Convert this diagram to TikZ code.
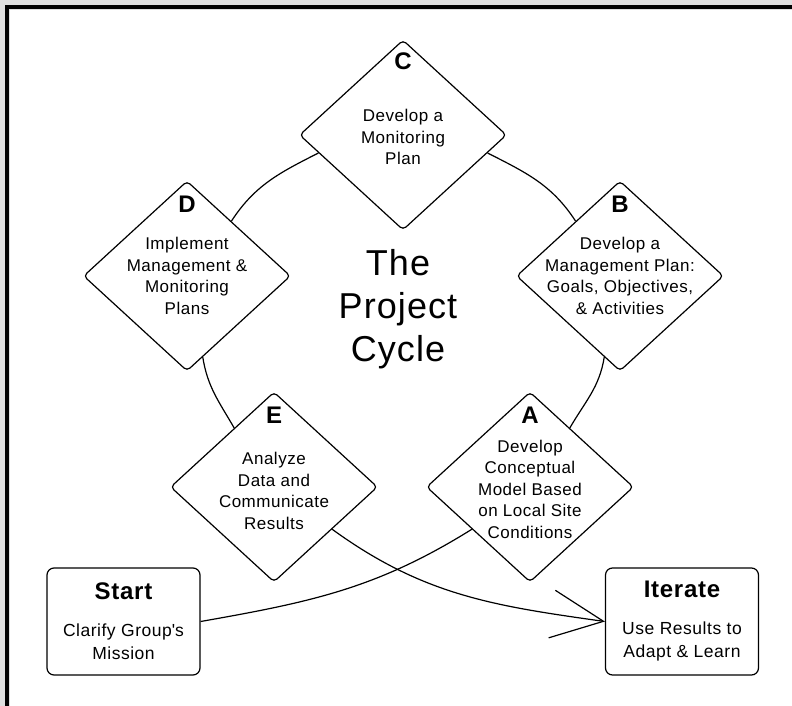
\documentclass[tikz,border=0pt]{standalone}
\usepackage{fontspec}
\setmainfont[LetterSpace=3]{Liberation Sans}
\usepackage{xcolor}
\definecolor{panel}{RGB}{222, 222, 222}
\usepackage{tikz}
\usetikzlibrary{positioning, shapes.geometric, arrows.meta}
\tikzset{
  phase/.style = {
    draw,
    diamond,
    fill=white,
    line width=1.2pt,
    rounded corners=4pt,
    minimum width=207pt,
    minimum height=190pt,
    inner sep=0pt
  },
  endbox/.style = {
    draw,
    fill=white,
    line width=1.2pt,
    rounded corners=7pt,
    minimum width=153pt,
    minimum height=107pt,
    align=center,
    font=\fontsize{17.5}{23}\selectfont
  },
  letter/.style = {
    font=\fontsize{24}{24}\selectfont\bfseries,
    inner sep=0pt
  },
  blurb/.style = {
    font=\fontsize{17}{21.5}\selectfont,
    align=center,
    inner sep=0pt
  },
  title/.style = {
    font=\fontsize{36}{43}\selectfont,
    align=center,
    inner sep=0pt
  },
  link/.style = {
    line width=1.2pt
  },
}

\begin{document}
\begin{tikzpicture}[x=1pt, y=1pt]
    \useasboundingbox (0,0) rectangle (792,-706);
    % window frame
    \fill[panel] (0,0) rectangle (792,-706);
    \fill[white] (10,-10) rectangle (792,-706);
    \fill[black] (5,-5) rectangle (792,-9);
    \fill[black] (5,-5) rectangle (9,-706);

    % the five phases
    \node[phase,
      label={[letter, yshift=74pt]center:C},
      label={[blurb, yshift=-2pt]center:{Develop a\\Monitoring\\Plan}}]
      (C) at (403,-135) {};
    \node[phase,
      label={[letter, yshift=72pt]center:D},
      label={[blurb]center:{Implement\\Management \&\\Monitoring\\Plans}}]
      (D) at (187,-276) {};
    \node[phase,
      label={[letter, yshift=72pt]center:B},
      label={[blurb]center:{Develop a\\Management Plan:\\Goals, Objectives,\\\& Activities}}]
      (B) at (620,-276) {};
    \node[phase,
      label={[letter, yshift=72pt]center:E},
      label={[blurb, yshift=-4pt]center:{Analyze\\Data and\\Communicate\\Results}}]
      (E) at (274,-487) {};
    \node[phase,
      label={[letter, yshift=72pt]center:A},
      label={[blurb, yshift=-2pt]center:{Develop\\Conceptual\\Model Based\\on Local Site\\Conditions}}]
      (A) at (530,-487) {};

    \node[title] (cycle) at (398,-309) {The\\Project\\Cycle};

    % start and end
    \node[endbox] (start) at (123.5,-621.5)
      {{\fontsize{24}{24}\selectfont\bfseries Start}\\[14pt]Clarify Group\textquotesingle s\\Mission};
    \node[endbox] (iterate) at (682,-621.5)
      {{\fontsize{24}{24}\selectfont\bfseries Iterate}\\[14pt]Use Results to\\Adapt \& Learn};

    % the cycle
    \draw[link] (C.192) to[out=207, in=57] (D.51);
    \draw[link] (C.348) to[out=333, in=123] (B.129);
    \draw[link] (D.281) to[out=279, in=120] (E.124);
    \draw[link] (B.259) to[out=261, in=60] (A.56);
    \draw[link] (start.east) to[out=10, in=212] (A.216);
    \draw[link, -{Straight Barb[length=52pt, width=48pt]}]
      (E.324) to[out=-36, in=172] (iterate.west);
\end{tikzpicture}
\end{document}
